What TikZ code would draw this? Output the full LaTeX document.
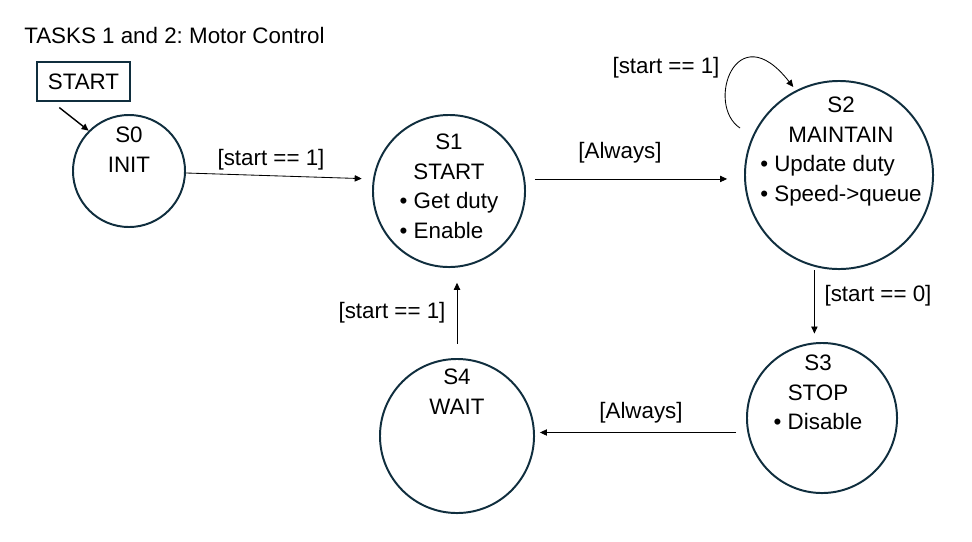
\documentclass[tikz,border=0pt]{standalone}
\usepackage{fontspec}
\setmainfont{Liberation Sans}
\usepackage{calc}
\usetikzlibrary{arrows.meta, positioning, calc}
\definecolor{ringblue}{RGB}{16,46,62}
\frenchspacing

\begin{document}
\begin{tikzpicture}[
      x=0.025cm, y=-0.025cm,
      every node/.style={font=\fontsize{15.9}{21}\selectfont},
      state/.style   ={circle, draw=ringblue, line width=1.4pt},
      txt/.style     ={align=center, anchor=north, inner sep=0pt},
      lbl/.style     ={inner sep=0pt},
      startbox/.style={rectangle, draw=ringblue, line width=1.4pt, minimum width=2.32cm, minimum height=0.97cm},
      trans/.style   ={->, line width=0.6pt},
      >={Triangle[length=5pt, width=4.5pt]}
    ]
    \useasboundingbox (0,0) rectangle (972,541);

    % Tittel og startboks
    \node[lbl, anchor=west] (title) at (24,36) {TASKS 1 and 2: Motor Control};
    \node[startbox] (go) at (83.5,81.5) {START};

    % Tilstander
    \node[state, minimum size=2.8cm]  (s0) at (129,171) {};
    \node[state, minimum size=3.8cm]  (s1) at (449,191) {};
    \node[state, minimum size=4.7cm]  (s2) at (839,175) {};
    \node[state, minimum size=3.75cm] (s3) at (822,418) {};
    \node[state, minimum size=3.85cm] (s4) at (457,436) {};

    % Tekst i tilstandene
    \node[txt] (s0t) at (129,127) {S0\\INIT};
    \node[txt] (s1t) at (449,134) {S1\\START\\\textbullet\ Get duty\\
      \makebox[\widthof{\textbullet\ Get duty}][l]{\textbullet\ Enable}};
    \node[txt] (s2t) at (841,97) {S2\\MAINTAIN\\
      \makebox[\widthof{\textbullet\ Speed->queue}][l]{\textbullet\ Update duty}\\\textbullet\ Speed->queue};
    \node[txt] (s3t) at (818,355) {S3\\STOP\\\textbullet\ Disable};
    \node[txt] (s4t) at (457,369) {S4\\WAIT};

    % Overganger
    \coordinate (a0) at ($(go.south west)+(16,0)$);
    \draw[->, line width=1pt, shorten <=6.5pt] (a0) -- (s0.135);
    \draw[trans, shorten >=8pt] (s0.-2) -- (s1.171);
    \draw[trans, shorten <=7pt, shorten >=12pt] (s1.9) -- (s1.9 -| s2.west);
    \coordinate (lp) at ($(s2.center)+(-99,-47)$);
    \draw[trans, shorten >=3pt] (lp) .. controls +(-35,-23) and +(-60,-77) .. (s2.117);
    \draw[trans, shorten <=2.5pt, shorten >=6pt] (s2.255) -- (s2.255 |- s3.north);
    \draw[trans, shorten <=8pt, shorten >=3.5pt] (s3.191) -- (s3.191 -| s4.east);
    \draw[trans, shorten <=10pt, shorten >=10.5pt] (s4.north) -- (s4.north |- s1.south);

    % Betingelser
    \node[lbl] (c01) at (271,160) {[start == 1]};
    \node[lbl] (c12) at (620,153) {[Always]};
    \node[lbl] (c22) at (666,68)  {[start == 1]};
    \node[lbl] (c23) at (878,296) {[start == 0]};
    \node[lbl] (c34) at (641,413) {[Always]};
    \node[lbl] (c41) at (392,313) {[start == 1]};

  \end{tikzpicture}
\end{document}
